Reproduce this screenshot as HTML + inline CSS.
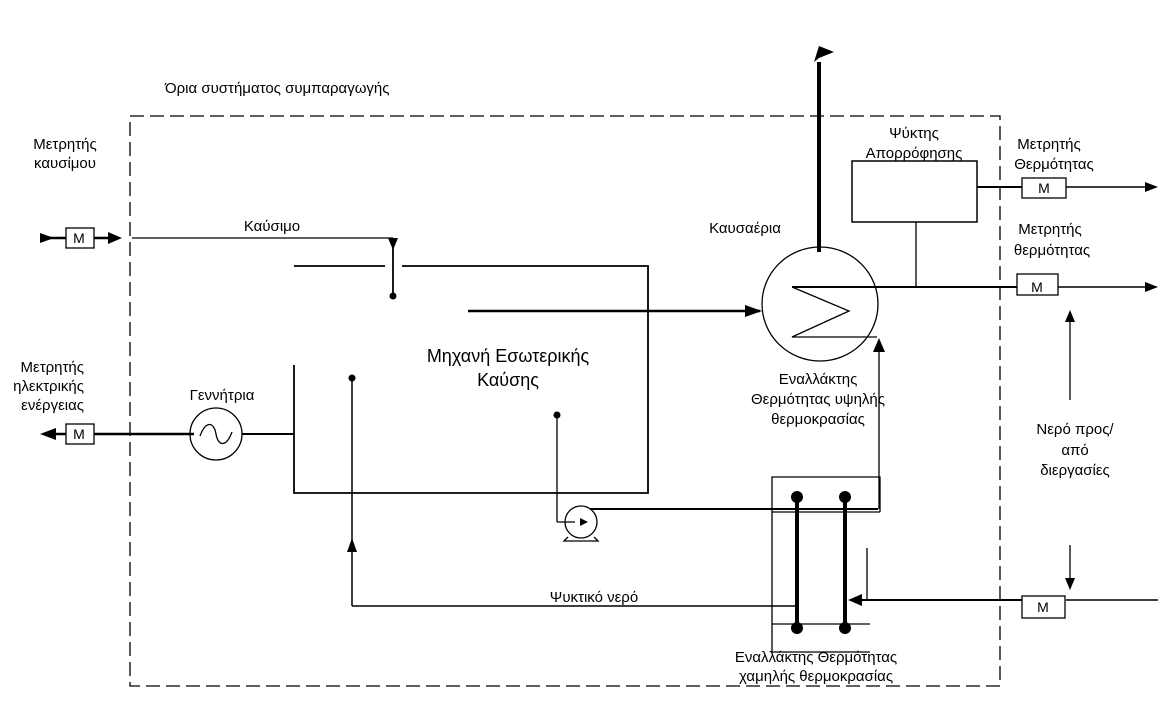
<!DOCTYPE html>
<html><head><meta charset="utf-8"><style>
html,body{margin:0;padding:0;background:#fff;}
svg{display:block;}
text{font-family:"Liberation Sans","DejaVu Sans",sans-serif;fill:#000;}
</style></head><body>
<svg width="1159" height="716" viewBox="0 0 1159 716" xmlns="http://www.w3.org/2000/svg">
<g fill="none" stroke="#000">
<path d="M130 116 H1000 V686 H130 Z" stroke-width="1.3" stroke-dasharray="14,6"/>
<line x1="40" y1="238" x2="66" y2="238" stroke-width="2.5"/>
<rect x="66" y="228" width="28" height="20" stroke-width="1.3"/>
<line x1="94" y1="238" x2="118" y2="238" stroke-width="2.5"/>
<line x1="132" y1="238" x2="393" y2="238" stroke-width="1.3"/>
<line x1="393" y1="240" x2="393" y2="295" stroke-width="1.8"/>
<path d="M294 266 H385 M402 266 H648 V493 H294 V365" stroke-width="1.8"/>
<line x1="468" y1="311" x2="760" y2="311" stroke-width="2.5"/>
<line x1="50" y1="434" x2="66" y2="434" stroke-width="2.5"/>
<rect x="66" y="424" width="28" height="20" stroke-width="1.3"/>
<line x1="94" y1="434" x2="194" y2="434" stroke-width="2.5"/>
<circle cx="216" cy="434" r="26" stroke-width="1.3"/>
<path d="M200 436 C206 420 214 422 216 434 C218 446 226 448 232 432" stroke-width="1.3"/>
<line x1="242" y1="434" x2="294" y2="434" stroke-width="2"/>
<line x1="352" y1="378" x2="352" y2="606" stroke-width="1.5"/>
<line x1="352" y1="606" x2="796" y2="606" stroke-width="1.5"/>
<line x1="557" y1="415" x2="557" y2="522" stroke-width="1.3"/>
<line x1="557" y1="522" x2="575" y2="522" stroke-width="1.3"/>
<circle cx="581" cy="522" r="16" stroke-width="1.3"/>
<path d="M568 537 L564 541 H598 L594 537" stroke-width="1.3"/>
<line x1="590" y1="509" x2="878" y2="509" stroke-width="2"/>
<line x1="879" y1="509" x2="879" y2="348" stroke-width="1.3"/>
<ellipse cx="820" cy="304" rx="58" ry="57" stroke-width="1.3"/>
<path d="M792 287 L849 311 L792 337 H877" stroke-width="1.3"/>
<line x1="792" y1="287" x2="1000" y2="287" stroke-width="2"/>
<line x1="819" y1="252" x2="819" y2="62" stroke-width="4"/>
<rect x="852" y="161" width="125" height="61" stroke-width="1.5"/>
<line x1="916" y1="222" x2="916" y2="287" stroke-width="1.3"/>
<line x1="977" y1="187" x2="1022" y2="187" stroke-width="2"/>
<rect x="1022" y="178" width="44" height="20" stroke-width="1.3"/>
<line x1="1066" y1="187" x2="1145" y2="187" stroke-width="1.5"/>
<line x1="1000" y1="287" x2="1017" y2="287" stroke-width="2"/>
<rect x="1017" y="274" width="41" height="21" stroke-width="1.3"/>
<line x1="1058" y1="287" x2="1145" y2="287" stroke-width="1.5"/>
<line x1="1070" y1="400" x2="1070" y2="320" stroke-width="1.3"/>
<line x1="1070" y1="545" x2="1070" y2="580" stroke-width="1.3"/>
<line x1="1158" y1="600" x2="1066" y2="600" stroke-width="1.5"/>
<rect x="1022" y="596" width="43" height="22" stroke-width="1.3"/>
<line x1="1022" y1="600" x2="860" y2="600" stroke-width="2"/>
<line x1="867" y1="548" x2="867" y2="600" stroke-width="1.3"/>
<path d="M772 612 V477 H880 V512" stroke-width="1.3"/>
<line x1="772" y1="512" x2="880" y2="512" stroke-width="1.3"/>
<line x1="772" y1="624" x2="870" y2="624" stroke-width="1.3"/>
<path d="M772 612 V652 H870" stroke-width="1.3"/>
<line x1="797" y1="497" x2="797" y2="628" stroke-width="4"/>
<line x1="845" y1="497" x2="845" y2="628" stroke-width="4"/>
</g>
<g fill="#000">
<polygon points="40,233 54,238 40,243"/>
<polygon points="108,232 122,238 108,244"/>
<polygon points="388,238 398,238 393,250"/>
<circle cx="393" cy="296" r="3.5"/>
<polygon points="745,305 762,311 745,317"/>
<polygon points="40,434 56,428 56,440"/>
<circle cx="352" cy="378" r="3.5"/>
<polygon points="352,538 347,552 357,552"/>
<circle cx="557" cy="415" r="3.5"/>
<polygon points="580,518 588,522 580,526"/>
<polygon points="873,352 879,338 885,352"/>
<polygon points="814,62 819,46 834,52 819,58"/>
<polygon points="1145,182 1158,187 1145,192"/>
<polygon points="1145,282 1158,287 1145,292"/>
<polygon points="1065,322 1070,310 1075,322"/>
<polygon points="1065,578 1075,578 1070,590"/>
<polygon points="848,600 862,594 862,606"/>
<circle cx="797" cy="497" r="6"/>
<circle cx="845" cy="497" r="6"/>
<circle cx="797" cy="628" r="6"/>
<circle cx="845" cy="628" r="6"/>
</g>
<g font-size="15">
<text x="79" y="243" text-anchor="middle" font-size="14">M</text>
<text x="79" y="439" text-anchor="middle" font-size="14">M</text>
<text x="1044" y="193" text-anchor="middle" font-size="14">M</text>
<text x="1037" y="292" text-anchor="middle" font-size="14">M</text>
<text x="1043" y="612" text-anchor="middle" font-size="14">M</text>
<text x="165" y="93">Όρια συστήματος συμπαραγωγής</text>
<text x="65" y="149" text-anchor="middle">Μετρητής</text>
<text x="65" y="168" text-anchor="middle">καυσίμου</text>
<text x="272" y="231" text-anchor="middle">Καύσιμο</text>
<text x="84" y="372" text-anchor="end">Μετρητής</text>
<text x="84" y="391" text-anchor="end">ηλεκτρικής</text>
<text x="84" y="410" text-anchor="end">ενέργειας</text>
<text x="222" y="400" text-anchor="middle">Γεννήτρια</text>
<text x="508" y="362" text-anchor="middle" font-size="18">Μηχανή Εσωτερικής</text>
<text x="508" y="386" text-anchor="middle" font-size="18">Καύσης</text>
<text x="745" y="233" text-anchor="middle">Καυσαέρια</text>
<text x="914" y="138" text-anchor="middle">Ψύκτης</text>
<text x="914" y="158" text-anchor="middle">Απορρόφησης</text>
<text x="1049" y="149" text-anchor="middle">Μετρητής</text>
<text x="1054" y="169" text-anchor="middle">Θερμότητας</text>
<text x="1050" y="234" text-anchor="middle">Μετρητής</text>
<text x="1052" y="255" text-anchor="middle">θερμότητας</text>
<text x="818" y="384" text-anchor="middle">Εναλλάκτης</text>
<text x="818" y="404" text-anchor="middle">Θερμότητας υψηλής</text>
<text x="818" y="424" text-anchor="middle">θερμοκρασίας</text>
<text x="1075" y="434" text-anchor="middle">Νερό προς/</text>
<text x="1075" y="455" text-anchor="middle">από</text>
<text x="1075" y="475" text-anchor="middle">διεργασίες</text>
<text x="594" y="602" text-anchor="middle">Ψυκτικό νερό</text>
<text x="816" y="662" text-anchor="middle">Εναλλάκτης Θερμότητας</text>
<text x="816" y="681" text-anchor="middle">χαμηλής θερμοκρασίας</text>
</g>
</svg>
</body></html>
